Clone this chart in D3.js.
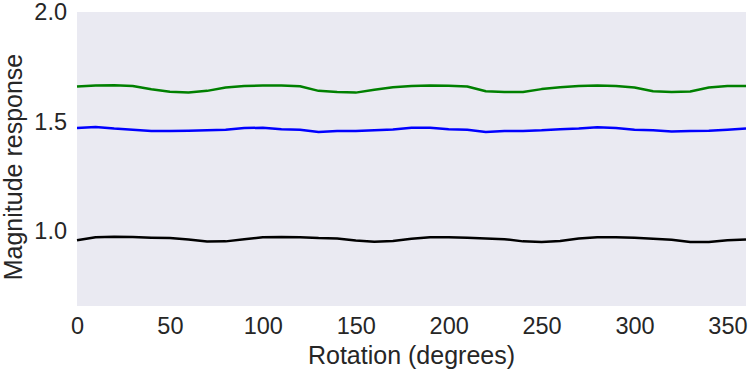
<!DOCTYPE html>
<html>
<head>
<meta charset="utf-8">
<script src="https://cdn.jsdelivr.net/npm/d3@7"></script>
<style>
  body { margin: 0; background: #fff; }
  text { font-family: "Liberation Sans", Arial, sans-serif; fill: #262626; }
</style>
</head>
<body>
<div id="chart"></div>
<script>
// rotation angles, one sample every 10 degrees
var angles = d3.range(0, 361, 10);

var greenVals = [1.660, 1.665, 1.666, 1.662, 1.647, 1.636, 1.633, 1.640, 1.655, 1.662,
                 1.665, 1.665, 1.661, 1.640, 1.635, 1.632, 1.645, 1.656, 1.662, 1.665,
                 1.663, 1.660, 1.638, 1.635, 1.635, 1.648, 1.657, 1.662, 1.665, 1.662,
                 1.655, 1.638, 1.635, 1.637, 1.655, 1.662, 1.662];
var blueVals = [1.470, 1.475, 1.468, 1.463, 1.457, 1.457, 1.458, 1.460, 1.463, 1.470,
                1.472, 1.465, 1.462, 1.452, 1.457, 1.457, 1.460, 1.464, 1.472, 1.472,
                1.465, 1.462, 1.452, 1.457, 1.457, 1.460, 1.465, 1.468, 1.474, 1.470,
                1.462, 1.460, 1.455, 1.457, 1.458, 1.463, 1.468];
var blackVals = [0.958, 0.972, 0.974, 0.973, 0.970, 0.968, 0.962, 0.952, 0.953, 0.963,
                 0.972, 0.973, 0.972, 0.968, 0.966, 0.957, 0.951, 0.955, 0.965, 0.972,
                 0.972, 0.970, 0.966, 0.963, 0.953, 0.950, 0.955, 0.966, 0.972, 0.972,
                 0.969, 0.965, 0.960, 0.950, 0.950, 0.958, 0.962];

var seriesColors = ['#008000', '#0000ff', '#000000'];
var xTicks = [0, 50, 100, 150, 200, 250, 300, 350];
var yTicks = [1.0, 1.5, 2.0];

var margin = { top: 12, right: 2, bottom: 71, left: 77 },
    width = 748 - margin.left - margin.right,
    height = 377 - margin.top - margin.bottom;

var svg = d3.select('#chart')
            .append('svg')
              .attr('width', 748)
              .attr('height', 377)
            .append('g')
              .attr('transform', 'translate(' + margin.left + ',' + margin.top + ')');

var x = d3.scaleLinear().domain([0, 360]).range([0, width]);
var y = d3.scaleLinear().domain([0.658, 2.0]).range([height, 0]);

svg.append('rect')
   .attr('width', width)
   .attr('height', height)
   .attr('fill', '#eaeaf2');

var line = d3.line()
             .x(function(d) { return x(d[0]); })
             .y(function(d) { return y(d[1]); });

[greenVals, blueVals, blackVals].forEach(function(vals, i) {
  svg.append('path')
     .datum(angles.map(function(a, j) { return [a, vals[j]]; }))
     .attr('d', line)
     .attr('fill', 'none')
     .attr('stroke', seriesColors[i])
     .attr('stroke-width', 2.5)
     .attr('stroke-linejoin', 'round');
});

var xAxis = svg.append('g')
               .attr('transform', 'translate(0,' + height + ')')
               .call(d3.axisBottom(x).tickValues(xTicks).tickSize(0).tickPadding(11)
                       .tickFormat(d3.format('d')));
xAxis.select('.domain').remove();
xAxis.selectAll('text').style('font-size', '23.5px').attr('fill', '#262626');

var yAxis = svg.append('g')
               .call(d3.axisLeft(y).tickValues(yTicks).tickSize(0).tickPadding(10)
                       .tickFormat(d3.format('.1f')));
yAxis.select('.domain').remove();
yAxis.selectAll('text').style('font-size', '23.5px').attr('fill', '#262626');

svg.append('text')
   .attr('x', width / 2)
   .attr('y', height + 58)
   .attr('text-anchor', 'middle')
   .style('font-size', '25px')
   .text('Rotation (degrees)');

svg.append('text')
   .attr('transform', 'translate(' + (-55) + ',' + 155 + ') rotate(-90)')
   .attr('text-anchor', 'middle')
   .style('font-size', '25px')
   .text('Magnitude response');
</script>
</body>
</html>
